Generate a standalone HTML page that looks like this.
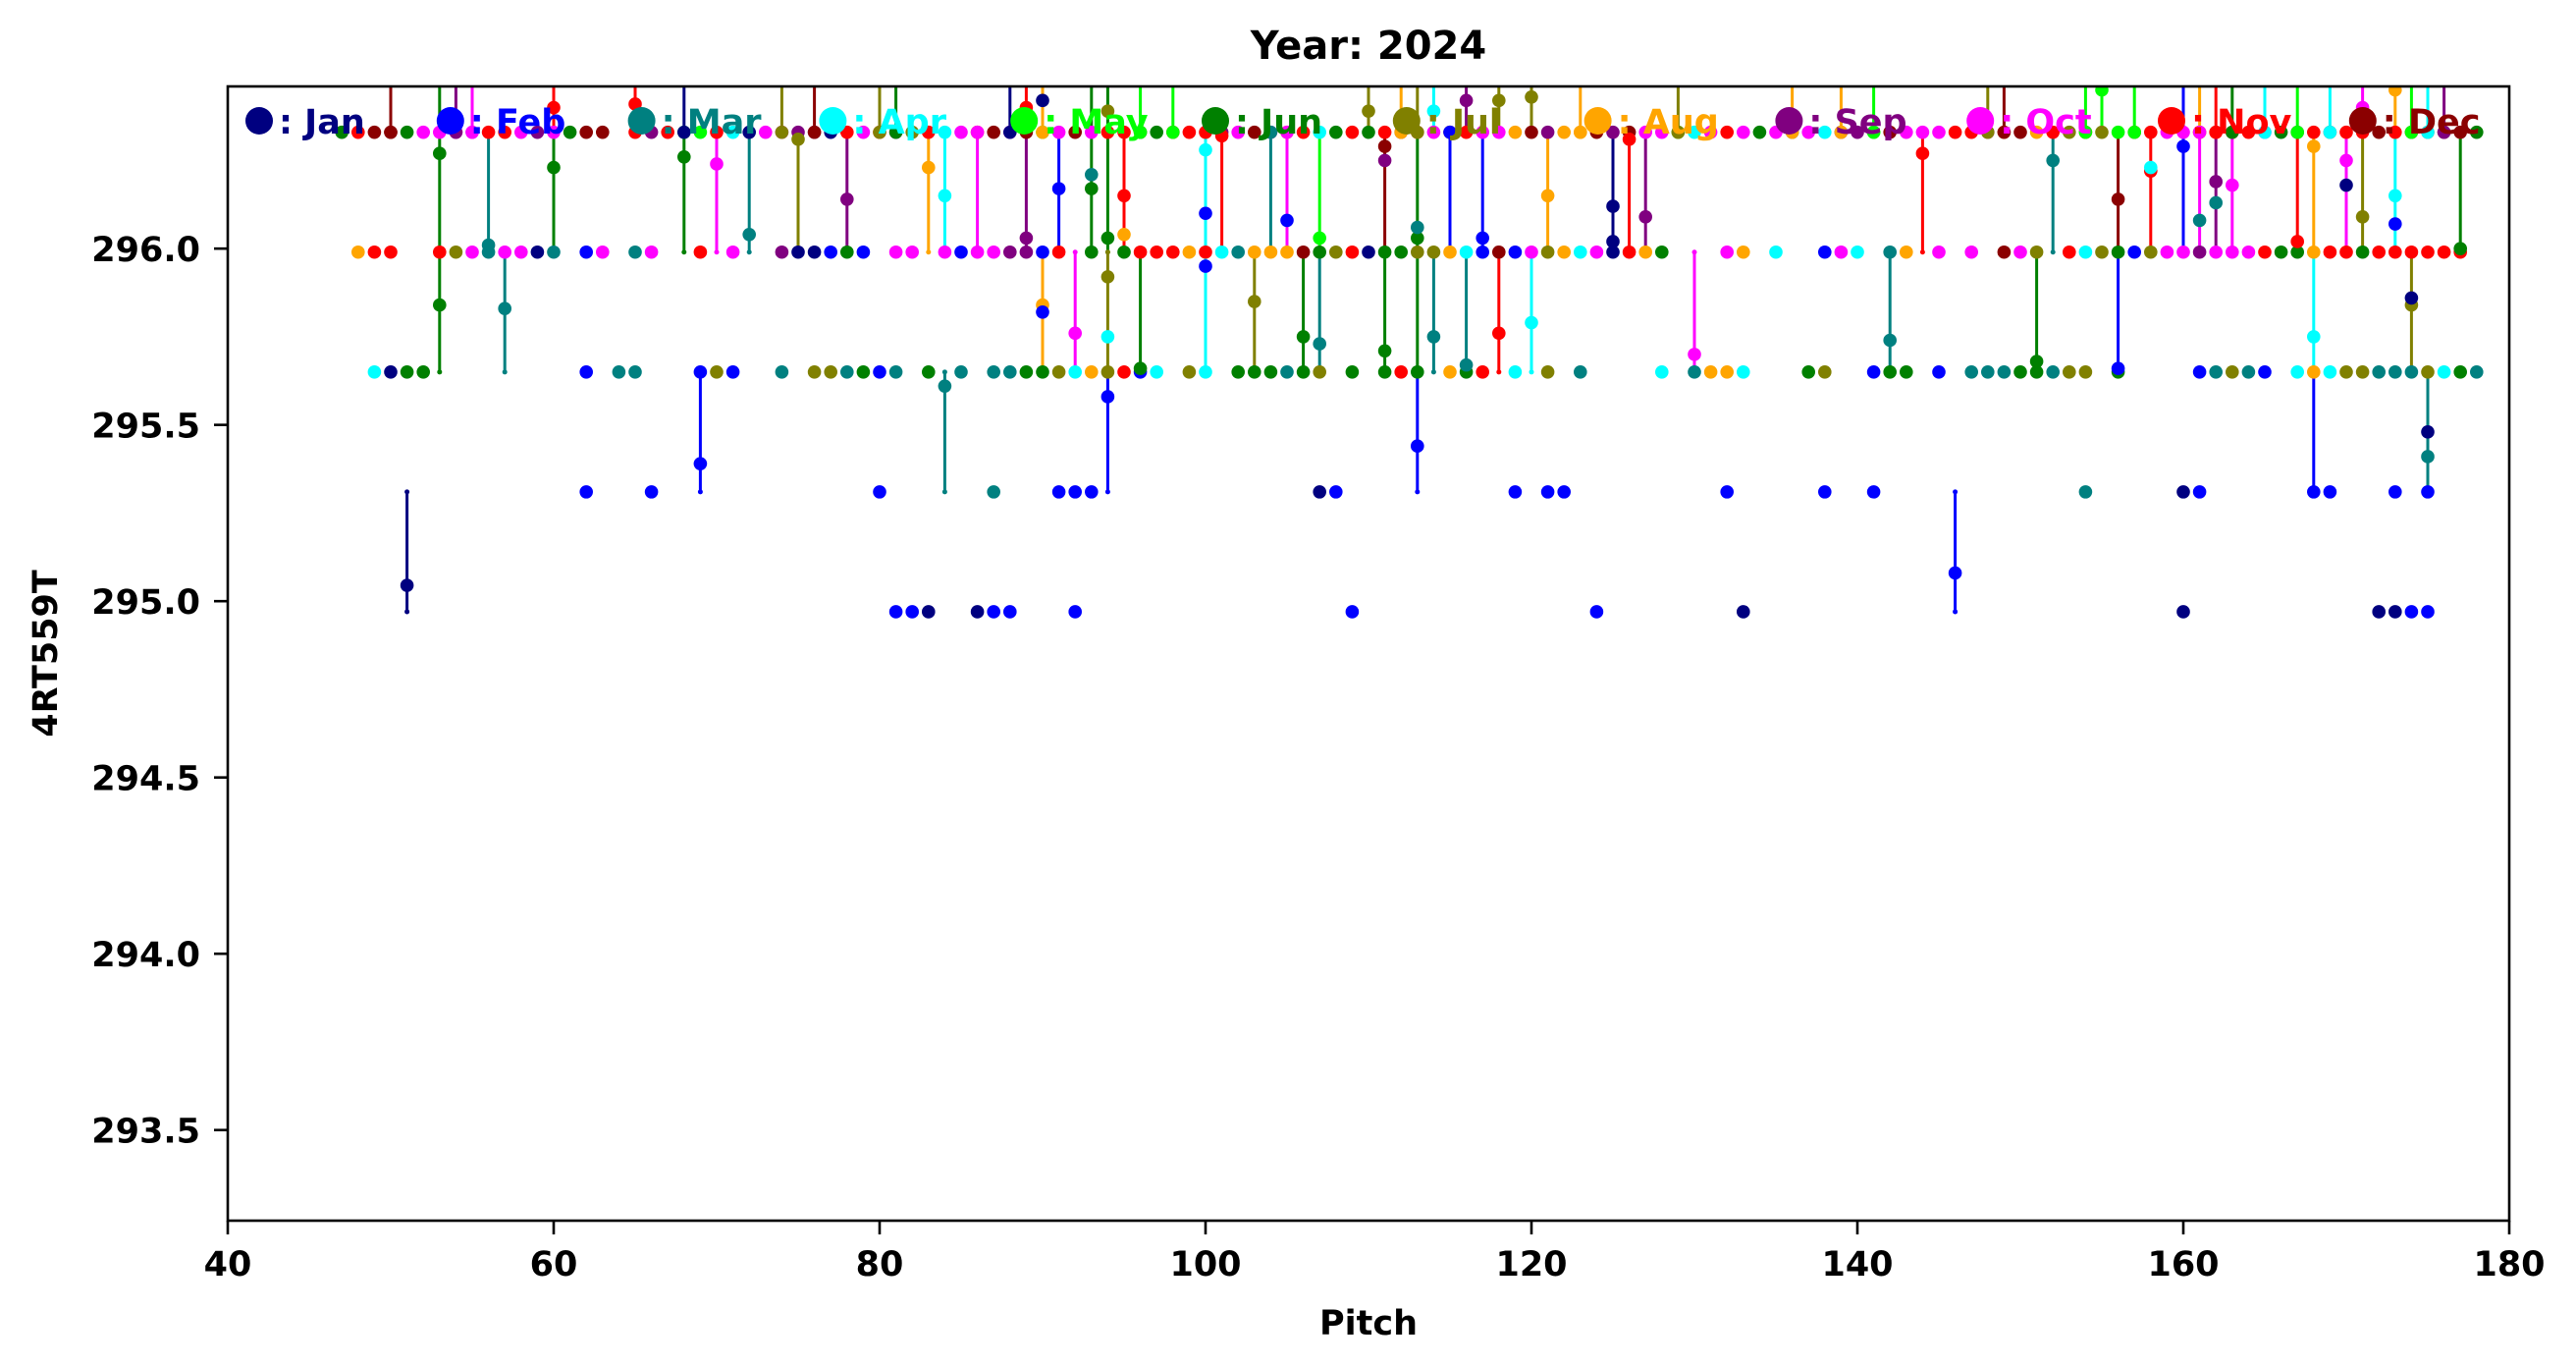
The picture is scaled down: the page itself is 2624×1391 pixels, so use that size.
<!DOCTYPE html>
<html><head><meta charset="utf-8"><style>
html,body{margin:0;padding:0;background:#fff;}
svg{display:block;font-family:"DejaVu Sans","Liberation Sans",sans-serif;font-weight:bold;}
</style></head>
<body>
<svg id="chart" width="2624" height="1391" viewBox="0 0 2624 1391" xmlns="http://www.w3.org/2000/svg">
<rect x="0" y="0" width="2624" height="1391" fill="#fff"/>
<text x="1394" y="60" text-anchor="middle" font-size="40" fill="#000">Year: 2024</text>
<defs><clipPath id="plotclip"><rect x="232" y="88" width="2324" height="1155"/></clipPath></defs>
<g id="plot" clip-path="url(#plotclip)"></g>
<g id="axes"></g>
<g id="legend"></g>
</svg>
<script>
const monthNames = ["Jan","Feb","Mar","Apr","May","Jun","Jul","Aug","Sep","Oct","Nov","Dec"];
const monthColors = ["#000080","#0000ff","#008080","#00ffff","#00ff00","#008000","#808000","#ffa500","#800080","#ff00ff","#ff0000","#8b0000"];
const xTicks = [40,60,80,100,120,140,160,180];
const yTicks = [293.5,294.0,294.5,295.0,295.5,296.0];
const yTickLabels = ["293.5","294.0","294.5","295.0","295.5","296.0"];
const H = 296.7;

const topRowX = [47,48,49,50,51,52,53,54,55,56,57,58,59,60,61,62,63,65,66,67,68,69,70,71,72,73,74,75,76,77,78,79,80,81,82,83,84,85,86,87,88,89,90,91,92,93,94,95,96,97,98,99,100,101,102,103,104,105,106,107,108,109,110,111,112,113,114,115,116,117,118,119,120,121,122,123,124,125,126,127,128,129,130,131,132,133,134,135,136,137,138,139,140,141,142,143,144,145,146,147,148,149,150,151,152,153,154,155,156,157,158,159,160,161,162,163,164,165,166,167,168,169,170,171,172,173,174,175,176,177,178];
const topRowM = [5,10,11,11,5,9,9,9,9,10,10,9,8,9,5,11,11,10,8,10,4,4,10,3,0,9,9,8,8,0,10,9,10,9,6,10,3,9,10,11,9,11,4,9,11,9,10,10,11,5,10,10,10,8,9,11,9,7,10,3,5,10,5,10,11,10,9,11,10,9,9,7,11,8,7,7,11,8,11,9,9,4,3,9,10,9,5,9,2,9,3,8,8,4,11,9,9,9,10,10,9,7,11,7,10,6,10,6,4,10,10,9,9,10,10,10,10,9,5,8,10,10,10,10,11,10,11,10,11,11,5];
const row296X = [48,49,50,53,54,55,56,57,58,59,60,62,63,65,66,69,71,74,75,76,77,78,79,81,82,84,85,86,87,88,89,90,91,93,95,96,97,98,99,100,101,102,103,104,105,106,107,108,109,110,111,112,113,114,115,116,117,118,119,120,121,122,123,124,125,126,127,128,132,133,135,138,139,140,142,143,145,147,149,150,151,153,154,155,156,157,158,159,160,161,162,163,164,165,166,167,168,169,170,171,172,173,174,175,176,177];
const row296M = [7,10,10,10,6,9,2,9,9,0,2,1,9,2,9,10,9,8,0,0,1,5,1,9,9,9,1,9,9,8,8,1,10,5,5,10,10,10,7,10,3,2,7,7,7,11,5,6,10,0,5,5,6,6,7,3,1,11,1,9,6,7,3,9,0,10,7,5,9,7,3,1,9,3,2,7,9,9,11,9,6,10,3,6,5,1,6,9,9,8,9,9,9,10,5,5,7,10,10,5,10,10,10,10,10,10];
const row2956X = [49,50,51,52,62,64,65,69,70,71,74,76,77,78,79,80,81,83,85,87,88,89,90,91,92,93,94,95,96,97,99,100,102,103,104,105,106,107,109,111,112,113,115,116,117,119,121,123,128,130,131,132,133,137,138,141,142,143,145,147,148,149,150,151,152,153,154,156,161,162,163,164,165,167,168,169,170,171,172,173,174,175,176,177,178];
const row2956M = [3,0,5,5,1,2,2,1,6,1,2,6,6,2,5,1,2,5,2,2,2,5,5,6,3,7,6,10,1,3,6,3,5,5,5,2,5,6,5,5,10,5,7,5,10,3,6,2,3,2,7,7,3,5,6,1,5,5,1,2,2,2,5,5,2,6,6,5,1,2,6,2,1,3,7,3,6,6,2,2,2,6,3,5,2];
const row2953X = [62,66,80,87,91,92,93,107,108,119,121,122,132,138,141,154,160,161,169,173,175];
const row2953M = [1,1,1,2,1,1,1,0,1,1,1,1,1,1,1,2,0,1,1,1,1];
const row2950X = [81,82,83,86,87,88,92,109,124,133,160,172,173,174,175];
const row2950M = [1,1,0,0,1,1,1,1,1,0,0,0,0,1,1];
const extraX = [53,90,90,93,94,94,95,100,100,105,111,113,125,158,161,162,170,173,174,175];
const extraY = [296.27,296.42,295.82,296.21,295.75,296.39,296.04,296.10,295.95,296.08,296.25,296.06,296.02,296.23,296.08,296.13,296.18,296.07,295.86,295.48];
const extraM = [5,0,1,2,3,6,7,1,1,1,8,2,0,3,2,2,0,1,0,0];

const stemX = [51,53,54,55,56,57,60,60,50,65,68,68,69,70,72,74,75,76,80,81,78,83,84,84,86,88,89,89,90,90,91,92,93,94,94,94,95,96,96,98,100,101,103,104,105,106,107,107,110,111,111,112,113,113,113,114,114,115,116,116,117,118,118,120,120,121,123,125,126,127,129,130,136,139,141,142,144,146,148,149,151,152,154,155,156,156,157,158,160,161,161,162,162,163,163,165,167,167,168,168,168,169,170,171,171,173,173,174,174,175,175,176,177];
const stemLo = [294.97,295.65,296.33,296.33,295.99,295.65,295.99,296.33,296.33,296.33,296.33,295.99,295.31,295.99,295.99,296.33,295.99,296.33,296.33,296.33,295.99,295.99,295.99,295.31,295.99,296.33,295.99,296.33,296.33,295.65,295.99,295.65,295.99,295.99,295.65,295.31,295.99,295.65,296.33,296.33,295.65,295.99,295.65,295.99,295.99,295.65,295.99,295.65,296.33,295.99,295.65,296.33,296.33,295.65,295.31,296.33,295.65,295.99,296.33,295.65,295.99,295.65,296.33,296.33,295.65,295.99,296.33,295.99,295.99,295.99,296.33,295.65,296.33,296.33,296.33,295.65,295.99,294.97,296.33,296.33,295.65,295.99,296.33,296.33,295.99,295.65,296.33,295.99,295.99,296.33,295.99,296.33,295.99,296.33,295.99,296.33,296.33,295.99,295.99,295.65,295.31,296.33,295.99,296.33,295.99,296.33,295.99,296.33,295.65,296.33,295.31,296.33,295.99];
const stemHi = [295.31,H,H,H,296.33,295.99,H,H,H,H,H,296.33,295.65,296.33,296.33,H,296.33,H,H,H,296.33,296.33,296.33,295.65,296.33,H,296.33,H,H,295.99,296.33,295.99,H,H,295.99,295.65,296.33,295.99,H,H,296.33,296.33,295.99,296.33,296.33,295.99,296.33,295.99,H,296.33,295.99,H,H,296.33,295.65,H,295.99,296.33,H,295.99,296.33,295.99,H,H,295.99,296.33,H,296.33,296.33,296.33,H,295.99,H,H,H,295.99,296.33,295.31,H,H,295.99,296.33,H,H,296.33,295.99,H,296.33,H,H,296.33,H,296.33,H,296.33,H,H,296.33,296.33,295.99,295.65,H,296.33,H,296.33,H,296.33,H,295.99,H,295.65,H,296.33];
const stemMean = [295.045,295.84,296.33,296.33,296.01,295.83,296.23,296.40,296.33,296.41,296.33,296.26,295.39,296.24,296.04,296.33,296.31,296.33,296.33,296.33,296.14,296.23,296.15,295.61,296.33,296.33,296.03,296.40,296.33,295.84,296.17,295.76,296.17,296.03,295.92,295.58,296.15,295.66,296.33,296.33,296.28,296.32,295.85,296.33,296.33,295.75,296.03,295.73,296.39,296.29,295.71,296.33,296.33,296.03,295.44,296.39,295.75,296.33,296.42,295.67,296.03,295.76,296.42,296.43,295.79,296.15,296.33,296.12,296.31,296.09,296.33,295.70,296.33,296.33,296.33,295.74,296.27,295.08,296.33,296.33,295.68,296.25,296.33,296.45,296.14,295.66,296.33,296.22,296.29,296.33,296.33,296.33,296.19,296.33,296.18,296.33,296.33,296.02,296.29,295.75,295.31,296.33,296.25,296.40,296.09,296.45,296.15,296.33,295.84,296.33,295.41,296.33,296.00];
const stemM = [0,5,8,9,2,2,5,10,11,10,0,5,1,9,2,6,6,11,6,5,8,7,3,2,9,0,8,10,7,7,1,9,5,5,6,1,10,5,4,4,3,10,6,2,9,5,4,2,6,11,5,7,6,5,1,3,2,1,8,2,1,10,6,6,3,7,7,0,10,8,6,9,7,7,4,2,10,1,6,11,5,2,4,4,11,1,4,10,1,7,9,10,8,5,9,3,4,10,7,3,1,3,9,9,6,7,3,4,6,3,2,8,5];

const X0 = 232, X1 = 2556, Y0 = 88, Y1 = 1243;
const XMIN = 40, XMAX = 180, YMIN = 293.243, YMAX = 296.46;
const DOT_R = 6.8;
function sx(v){ return X0 + (v - XMIN) / (XMAX - XMIN) * (X1 - X0); }
function sy(v){ return Y1 - (v - YMIN) / (YMAX - YMIN) * (Y1 - Y0); }
const NS = "http://www.w3.org/2000/svg";
function mk(tag, attrs, parent){
  const e = document.createElementNS(NS, tag);
  for (const k in attrs) e.setAttribute(k, attrs[k]);
  parent.appendChild(e);
  return e;
}
const plot = document.getElementById('plot');
const axes = document.getElementById('axes');
const legend = document.getElementById('legend');

function dot(x, y, m, r, name){
  const c = mk('circle', {cx: sx(x), cy: sy(y), r: r, fill: monthColors[m]}, plot);
  
  
}
function rowDots(xs, ms, level, name){
  for (let i = 0; i < xs.length; i++) dot(xs[i], level, ms[i], DOT_R, name);
}
for (let i = 0; i < stemX.length; i++){
  const col = monthColors[stemM[i]];
  const g = mk('g', {}, plot);
  
  
  mk('line', {x1: sx(stemX[i]), x2: sx(stemX[i]), y1: sy(stemLo[i]), y2: sy(stemHi[i]), stroke: col, 'stroke-width': 3}, g);
  mk('circle', {cx: sx(stemX[i]), cy: sy(stemLo[i]), r: 2.5, fill: col}, g);
  mk('circle', {cx: sx(stemX[i]), cy: sy(stemHi[i]), r: 2.5, fill: col}, g);
}
rowDots(topRowX, topRowM, 296.33, 'point-296-33');
rowDots(row296X, row296M, 295.99, 'point-295-99');
rowDots(row2956X, row2956M, 295.65, 'point-295-65');
rowDots(row2953X, row2953M, 295.31, 'point-295-31');
rowDots(row2950X, row2950M, 294.97, 'point-294-97');
for (let i = 0; i < stemX.length; i++) dot(stemX[i], stemMean[i], stemM[i], DOT_R, 'mean-point');
for (let i = 0; i < extraX.length; i++) dot(extraX[i], extraY[i], extraM[i], DOT_R, 'extra-point');

const frame = mk('rect', {x: X0, y: Y0, width: X1 - X0, height: Y1 - Y0, fill: 'none', stroke: '#000', 'stroke-width': 2.6}, axes);


for (let i = 0; i < xTicks.length; i++){
  const x = sx(xTicks[i]);
  const t = mk('line', {x1: x, x2: x, y1: Y1, y2: Y1 + 14, stroke: '#000', 'stroke-width': 2.6}, axes);
  
  
  const l = mk('text', {x: x, y: Y1 + 56, 'text-anchor': 'middle', 'font-size': 35, fill: '#000'}, axes);
  l.textContent = String(xTicks[i]);
  
  
}
for (let i = 0; i < yTicks.length; i++){
  const y = sy(yTicks[i]);
  const t = mk('line', {x1: X0 - 14, x2: X0, y1: y, y2: y, stroke: '#000', 'stroke-width': 2.6}, axes);
  
  
  const l = mk('text', {x: X0 - 28, y: y + 13, 'text-anchor': 'end', 'font-size': 35, fill: '#000'}, axes);
  l.textContent = yTickLabels[i];
  
  
}
const xt = mk('text', {x: (X0 + X1) / 2, y: 1359, 'text-anchor': 'middle', 'font-size': 35, fill: '#000'}, axes);
xt.textContent = 'Pitch';


const yt = mk('text', {x: 0, y: 0, 'text-anchor': 'middle', 'font-size': 35, fill: '#000', transform: 'translate(58,' + ((Y0 + Y1) / 2) + ') rotate(-90)'}, axes);
yt.textContent = '4RT559T';



for (let i = 0; i < 12; i++){
  const g = mk('g', {}, legend);
  
  
  const cx = 264 + i * 194.8;
  mk('ellipse', {cx: cx, cy: 123, rx: 14, ry: 14, fill: monthColors[i]}, g);
  const t = mk('text', {x: cx + 20, y: 136, 'font-size': 35, fill: monthColors[i]}, g);
  t.textContent = ': ' + monthNames[i];
}
</script>
</body></html>
